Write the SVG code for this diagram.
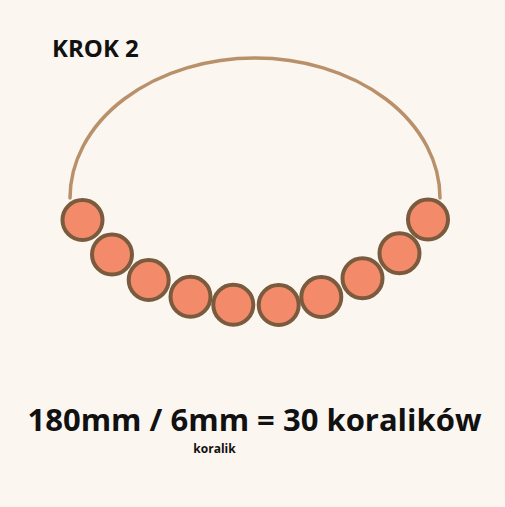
<svg xmlns="http://www.w3.org/2000/svg" width="505" height="507" viewBox="0 0 505 507">
<style>
.bead{fill:#f38b6a;stroke:#7b5b3e;stroke-width:4}
.wire{fill:none;stroke:#b8916a;stroke-width:3.5;stroke-linecap:round}
text{font-family:"Open Sans","Noto Sans","Liberation Sans",sans-serif;font-weight:bold;fill:#111}
</style>
<rect width="505" height="507" fill="#fcf6f0"/>
<g id="connectors">
<path class="wire" d="M 70 198 A 185 140 0 0 1 440 198"/>
</g>
<g id="bead1"><circle class="bead" cx="82.5" cy="220" r="20"/></g>
<g id="bead2"><circle class="bead" cx="112" cy="254.5" r="20"/></g>
<g id="bead3"><circle class="bead" cx="148.7" cy="280" r="20"/></g>
<g id="bead4"><circle class="bead" cx="190.5" cy="296.7" r="20"/></g>
<g id="bead5"><circle class="bead" cx="233.3" cy="304.7" r="20"/></g>
<g id="bead6"><circle class="bead" cx="278.7" cy="305" r="20"/></g>
<g id="bead7"><circle class="bead" cx="321.3" cy="297" r="20"/></g>
<g id="bead8"><circle class="bead" cx="362.5" cy="278.3" r="20"/></g>
<g id="bead9"><circle class="bead" cx="399.5" cy="253.3" r="20"/></g>
<g id="bead10"><circle class="bead" cx="428" cy="219.5" r="20"/></g>
<g id="title"><text x="52" y="57" font-size="24">KROK 2</text></g>
<g id="formula"><text x="254.5" y="431" font-size="31" text-anchor="middle">180mm / 6mm = 30 koralików</text></g>
<g id="note"><text x="214.5" y="453" font-size="12" text-anchor="middle">koralik</text></g>
</svg>
